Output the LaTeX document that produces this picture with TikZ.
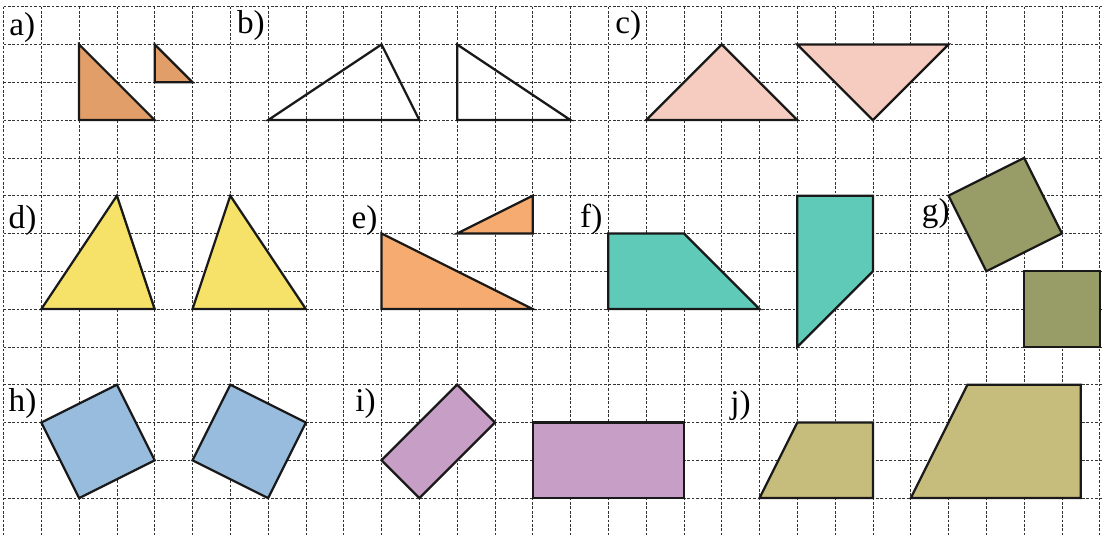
\documentclass[tikz,border=0pt]{standalone}
\usepackage{fontspec}
\setmainfont{Liberation Serif}
\newfontfamily\tagfont{Liberation Serif}
\definecolor{fillA}{RGB}{226,158,104}
\definecolor{fillC}{RGB}{246,204,192}
\definecolor{fillD}{RGB}{246,226,104}
\definecolor{fillE}{RGB}{246,172,112}
\definecolor{fillF}{RGB}{96,202,184}
\definecolor{fillG}{RGB}{152,156,102}
\definecolor{fillH}{RGB}{152,188,222}
\definecolor{fillI}{RGB}{198,158,198}
\definecolor{fillJ}{RGB}{198,188,124}

\begin{document}
\begin{tikzpicture}[x=1cm,y=-1cm,
    gridline/.style={black!80, line width=0.55pt, dash pattern=on 2pt off 1.3pt},
    figline/.style={draw=black!90, line width=1.7pt, line join=miter},
    tag/.style={anchor=base west, inner sep=0pt, font=\tagfont\fontsize{25}{30}\selectfont}]
    \useasboundingbox (-0.093,-0.177) rectangle (29.06,14.0);
    % squared paper
    \foreach \c in {0,...,29} {
        \draw[gridline] (\c,0) -- (\c,14.0);
    }
    \foreach \r in {0,...,13} {
        \draw[gridline] (0,\r) -- (29.06,\r);
    }
    % a)
    \node[tag] (la) at (0.15,0.76) {a)};
    \draw[figline, fill=fillA] (2,1) -- (2,3) -- (4,3) -- cycle;
    \draw[figline, fill=fillA] (4,1) -- (4,2) -- (5,2) -- cycle;
    % b)
    \node[tag] (lb) at (6.17,0.72) {b)};
    \draw[figline] (7,3) -- (10,1) -- (11,3) -- cycle;
    \draw[figline] (12,1) -- (12,3) -- (15,3) -- cycle;
    % c)
    \node[tag] (lc) at (16.18,0.72) {c)};
    \draw[figline, fill=fillC] (17,3) -- (19,1) -- (21,3) -- cycle;
    \draw[figline, fill=fillC] (21,1) -- (25,1) -- (23,3) -- cycle;
    % d)
    \node[tag] (ld) at (0.13,5.86) {d)};
    \draw[figline, fill=fillD] (1,8) -- (3,5) -- (4,8) -- cycle;
    \draw[figline, fill=fillD] (5,8) -- (6,5) -- (8,8) -- cycle;
    % e)
    \node[tag] (le) at (9.2,5.86) {e)};
    \draw[figline, fill=fillE] (10,6) -- (10,8) -- (14,8) -- cycle;
    \draw[figline, fill=fillE] (12,6) -- (14,5) -- (14,6) -- cycle;
    % f)
    \node[tag] (lf) at (15.25,5.84) {f)};
    \draw[figline, fill=fillF] (16,6) -- (18,6) -- (20,8) -- (16,8) -- cycle;
    \draw[figline, fill=fillF] (21,5) -- (23,5) -- (23,7) -- (21,9) -- cycle;
    % g)
    \node[tag] (lg) at (24.29,5.69) {g)};
    \draw[figline, fill=fillG] (25,5) -- (27,4) -- (28,6) -- (26,7) -- cycle;
    \draw[figline, fill=fillG] (27,7) rectangle (29,9);
    % h)
    \node[tag] (lh) at (0.13,10.72) {h)};
    \draw[figline, fill=fillH] (1,11) -- (3,10) -- (4,12) -- (2,13) -- cycle;
    \draw[figline, fill=fillH] (5,12) -- (6,10) -- (8,11) -- (7,13) -- cycle;
    % i)
    \node[tag] (li) at (9.3,10.72) {i)};
    \draw[figline, fill=fillI] (10,12) -- (12,10) -- (13,11) -- (11,13) -- cycle;
    \draw[figline, fill=fillI] (14,11) rectangle (18,13);
    % j)
    \node[tag] (lj) at (19.22,10.76) {j)};
    \draw[figline, fill=fillJ] (20,13) -- (21,11) -- (23,11) -- (23,13) -- cycle;
    \draw[figline, fill=fillJ] (24,13) -- (25.5,10) -- (28.5,10) -- (28.5,13) -- cycle;
\end{tikzpicture}
\end{document}
